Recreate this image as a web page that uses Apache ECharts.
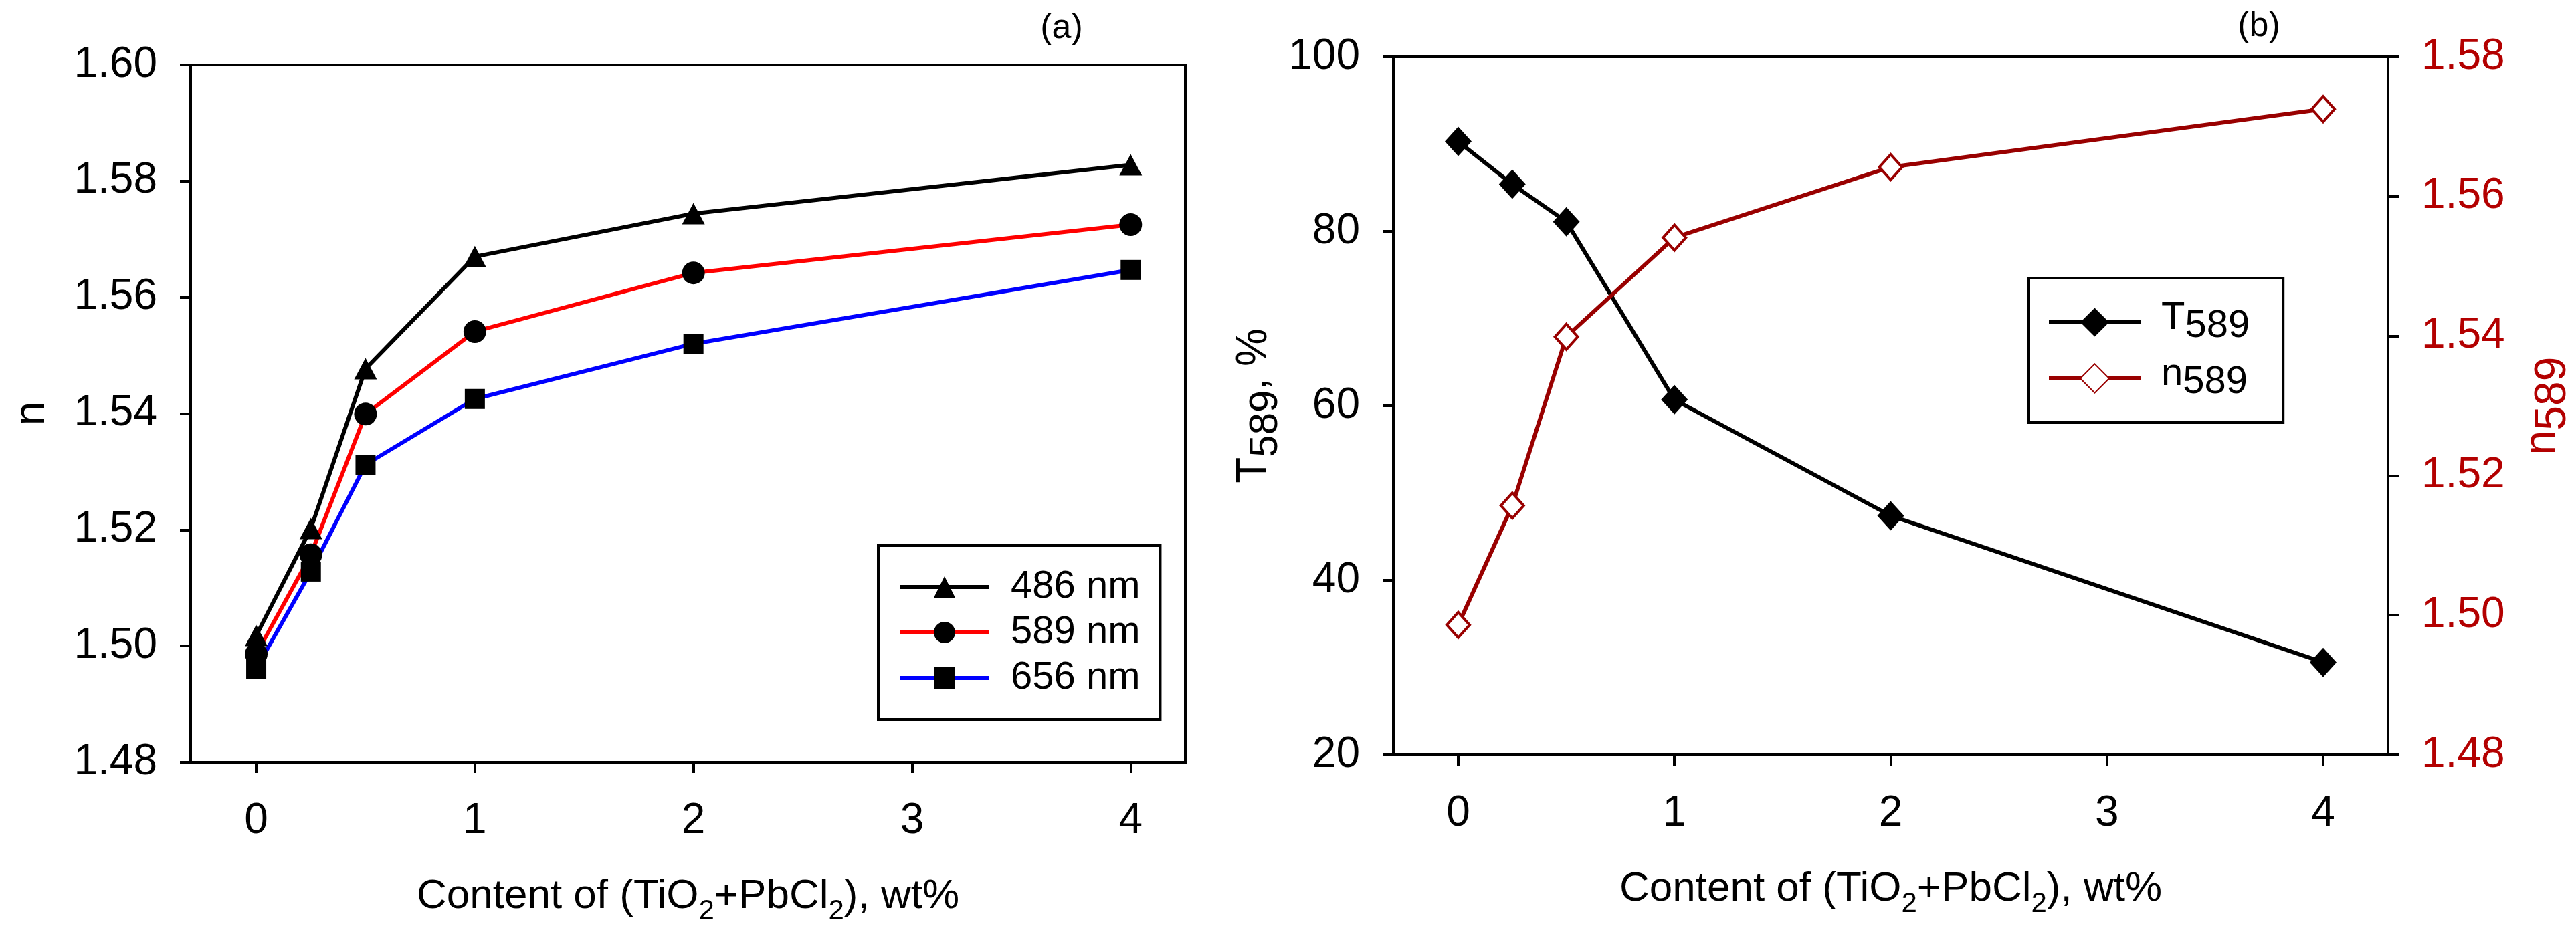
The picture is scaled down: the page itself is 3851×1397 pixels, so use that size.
<!DOCTYPE html>
<html>
<head>
<meta charset="utf-8">
<script src="https://cdn.jsdelivr.net/npm/echarts@6/dist/echarts.min.js"></script>
<style>
  html, body { margin: 0; padding: 0; background: #fff; }
  #chart { width: 3851px; height: 1397px; }
</style>
</head>
<body>
<div id="chart"></div>
<script>
// values
const content = [0, 0.25, 0.5, 1, 2, 4];
const n486 = [1.5018, 1.5202, 1.5477, 1.5670, 1.5744, 1.5828];
const n589 = [1.4986, 1.5157, 1.5399, 1.5541, 1.5642, 1.5725];
const n656 = [1.4961, 1.5128, 1.5312, 1.5425, 1.5520, 1.5647];
const t589 = [90.3, 85.4, 81.1, 60.7, 47.4, 30.6];
const xTicks = [0, 1, 2, 3, 4];

const FONT = '"Liberation Sans", Arial, sans-serif';
const RED_AX = '#b30000';
const DARK_RED = '#990000';

const pts = ys => content.map((x, i) => [x, ys[i]]);

const xTitle = '{a|Content of (TiO}{s|2}{a|+PbCl}{s|2}{a|), wt%}';
const xTitleRich = {
  a: { fontSize: 62, fontFamily: FONT, color: '#000' },
  s: { fontSize: 42, fontFamily: FONT, color: '#000', padding: [44, 0, 0, 0] }
};

function xAxisOf(grid, max) {
  return {
    gridIndex: grid, type: 'value', min: -0.3, max: max,
    axisLine: { show: true, onZero: false, lineStyle: { color: '#000', width: 4 } },
    axisTick: { show: true, customValues: xTicks, length: 16, lineStyle: { color: '#000', width: 4 } },
    axisLabel: { customValues: xTicks, fontSize: 64, fontFamily: FONT, color: '#000', margin: 56 },
    splitLine: { show: false },
    name: xTitle, nameLocation: 'middle', nameGap: 158,
    nameTextStyle: { rich: xTitleRich }
  };
}

function yAxisOf(grid, pos, min, max, step, digits, color) {
  return {
    gridIndex: grid, type: 'value', position: pos, min: min, max: max, interval: step,
    axisLine: { show: true, onZero: false, lineStyle: { color: '#000', width: 4 } },
    axisTick: { show: true, length: 16, lineStyle: { color: '#000', width: 4 } },
    axisLabel: { fontSize: 64, fontFamily: FONT, color: color, margin: 50,
      formatter: v => v.toFixed(digits) },
    splitLine: { show: false }
  };
}

const yN = yAxisOf(0, 'left', 1.48, 1.60, 0.02, 2, '#000');
yN.name = 'n';
yN.nameLocation = 'middle';
yN.nameGap = 205;
yN.nameTextStyle = { fontSize: 64, fontFamily: FONT, color: '#000' };

const yT = yAxisOf(1, 'left', 20, 100, 20, 0, '#000');
yT.name = '{a|T}{s|589}{a|, %}';
yT.nameLocation = 'middle';
yT.nameGap = 155;
yT.nameTextStyle = { rich: {
  a: { fontSize: 64, fontFamily: FONT, color: '#000' },
  s: { fontSize: 60, fontFamily: FONT, color: '#000', padding: [34, 0, 0, 0] }
} };

const yR = yAxisOf(1, 'right', 1.48, 1.58, 0.02, 2, RED_AX);
yR.name = '{a|n}{s|589}';
yR.nameLocation = 'middle';
yR.nameRotate = 90;
yR.nameGap = 182;
yR.nameTextStyle = { rich: {
  a: { fontSize: 66, fontFamily: FONT, color: RED_AX },
  s: { fontSize: 66, fontFamily: FONT, color: RED_AX, padding: [32, 0, 0, 0] }
} };

function lineSeries(name, xi, yi, data, symbol, size, lineColor, itemStyle) {
  return {
    name: name, type: 'line', xAxisIndex: xi, yAxisIndex: yi, data: pts(data),
    symbol: symbol, symbolSize: size, showAllSymbol: true, animation: false,
    lineStyle: { color: lineColor, width: 6 },
    itemStyle: itemStyle
  };
}

const chart = echarts.init(document.getElementById('chart'));
chart.setOption({
  backgroundColor: '#fff',
  animation: false,
  grid: [
    { left: 285, top: 97, width: 1487, height: 1043, show: true, borderColor: '#000', borderWidth: 4 },
    { left: 2083, top: 85, width: 1493, height: 1044, show: true, borderColor: '#000', borderWidth: 4 }
  ],
  xAxis: [xAxisOf(0, 4.25), xAxisOf(1, 4.3)],
  yAxis: [yN, yT, yR],
  legend: [
    {
      data: ['486 nm', '589 nm', '656 nm'], orient: 'vertical',
      left: 1313, top: 816, itemWidth: 134, itemHeight: 40, itemGap: 10,
      padding: [33, 30, 33, 29], borderColor: '#000', borderWidth: 4, borderRadius: 0,
      selectedMode: false,
      lineStyle: { width: 6 },
      formatter: '{a|{name}}',
      textStyle: { rich: { a: { fontSize: 58, lineHeight: 60, fontFamily: FONT, color: '#000', padding: [0, 0, 0, 27] } } }
    },
    {
      data: ['T589', 'n589'], orient: 'vertical',
      left: 3033, top: 416, itemWidth: 137, itemHeight: 54, itemGap: 14,
      padding: [31, 50, 31, 27], borderColor: '#000', borderWidth: 4, borderRadius: 0,
      selectedMode: false,
      lineStyle: { width: 6 },
      formatter: name => name === 'T589' ? '{t|T}{s|589}' : '{t|n}{s|589}',
      textStyle: { rich: {
        t: { fontSize: 58, lineHeight: 58, fontFamily: FONT, color: '#000', padding: [0, 0, 12, 26] },
        s: { fontSize: 58, lineHeight: 58, fontFamily: FONT, color: '#000', padding: [12, 0, 0, 0] }
      } }
    }
  ],
  series: [
    lineSeries('486 nm', 0, 0, n486, 'triangle', [34, 32], '#000', { color: '#000' }),
    lineSeries('589 nm', 0, 0, n589, 'circle', 34, '#ff0000', { color: '#000' }),
    lineSeries('656 nm', 0, 0, n656, 'rect', 30, '#0000ff', { color: '#000' }),
    lineSeries('T589', 1, 1, t589, 'diamond', [40, 44], '#000', { color: '#000' }),
    lineSeries('n589', 1, 2, n589, 'diamond', [34, 38], DARK_RED,
      { color: '#fff', borderColor: DARK_RED, borderWidth: 4 })
  ],
  graphic: [
    { type: 'text', x: 1587, y: 43, style: { text: '(a)', fontSize: 52, fontFamily: FONT, fill: '#000', align: 'center', verticalAlign: 'middle' } },
    { type: 'text', x: 3377, y: 40, style: { text: '(b)', fontSize: 52, fontFamily: FONT, fill: '#000', align: 'center', verticalAlign: 'middle' } }
  ]
});
</script>
</body>
</html>
